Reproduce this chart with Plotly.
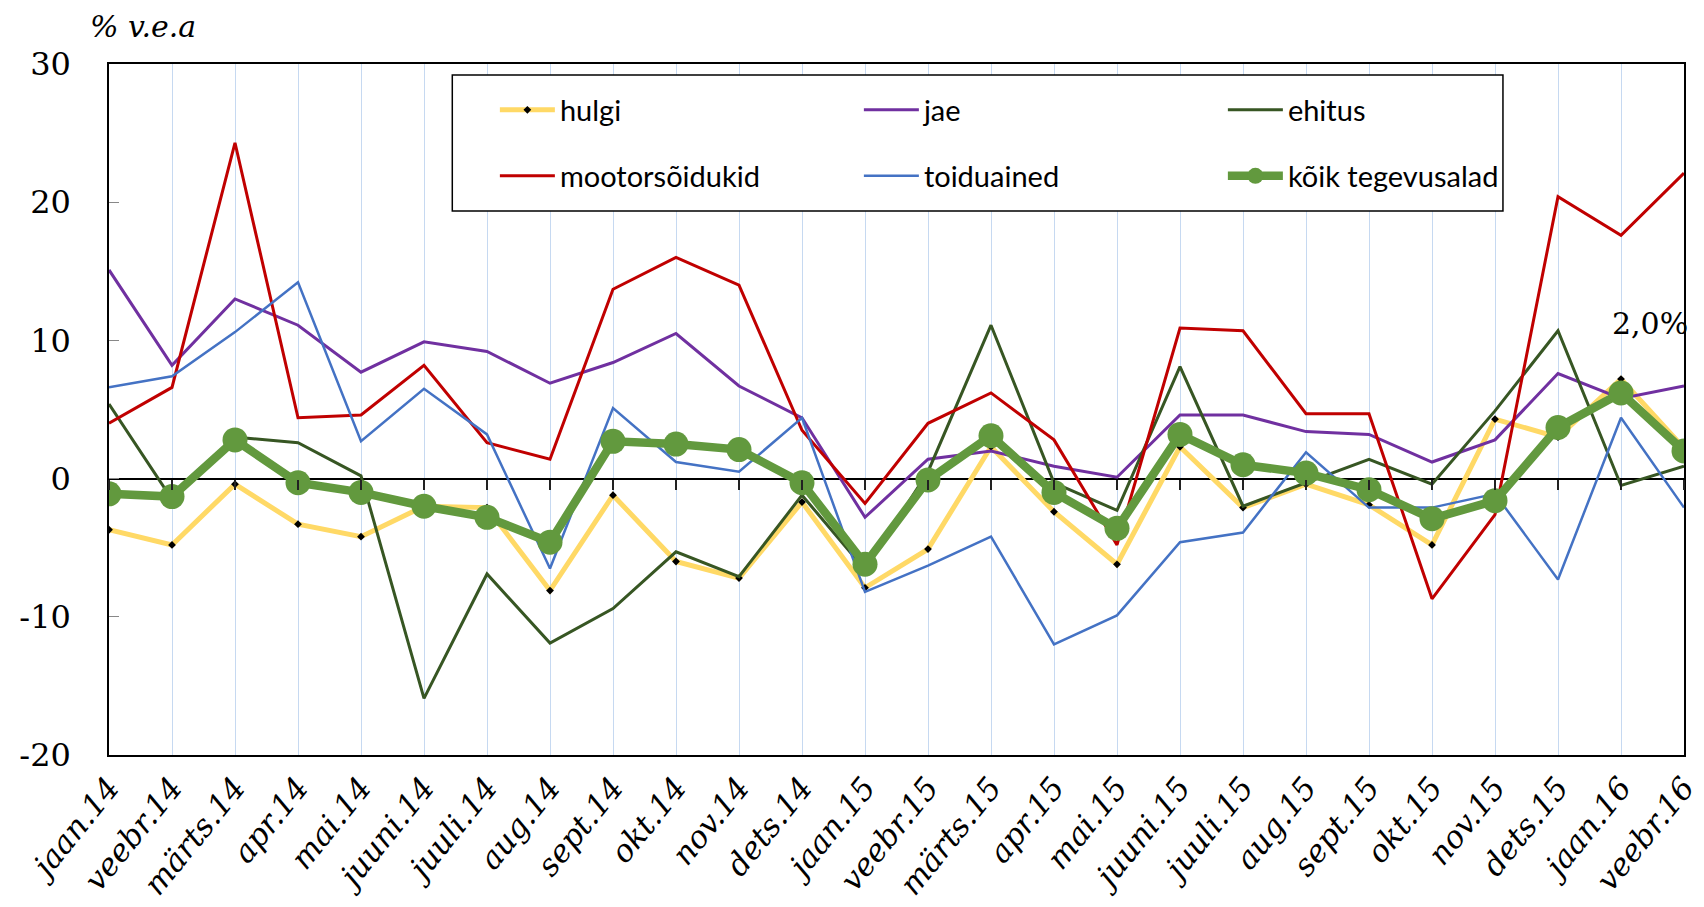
import plotly.graph_objects as go

months = ["jaan.14", "veebr.14", "märts.14", "apr.14", "mai.14", "juuni.14", "juuli.14",
          "aug.14", "sept.14", "okt.14", "nov.14", "dets.14", "jaan.15", "veebr.15",
          "märts.15", "apr.15", "mai.15", "juuni.15", "juuli.15", "aug.15", "sept.15",
          "okt.15", "nov.15", "dets.15", "jaan.16", "veebr.16"]

hulgi = [-3.7, -4.8, -0.4, -3.3, -4.2, -2.0, -2.1, -8.1, -1.2, -6.0, -7.2, -1.7, -7.9,
         -5.1, 2.3, -2.4, -6.2, 2.3, -2.1, -0.4, -1.9, -4.8, 4.3, 3.0, 7.2, 2.2]
jae = [15.1, 8.2, 13.0, 11.1, 7.7, 9.9, 9.2, 6.9, 8.4, 10.5, 6.7, 4.4, -2.8, 1.4, 2.0,
       0.9, 0.1, 4.6, 4.6, 3.4, 3.2, 1.2, 2.8, 7.6, 5.8, 6.7]
ehitus = [5.4, -1.5, 3.0, 2.6, 0.2, -15.9, -6.9, -11.9, -9.4, -5.3, -7.1, -1.2, -6.6,
          0.5, 11.1, -0.3, -2.3, 8.1, -2.0, -0.3, 1.4, -0.4, 4.9, 10.7, -0.5, 0.9]
mootorsoidukid = [4.0, 6.6, 24.3, 4.4, 4.6, 8.2, 2.6, 1.4, 13.7, 16.0, 14.0, 3.5, -1.8,
                  4.0, 6.2, 2.8, -4.8, 10.9, 10.7, 4.7, 4.7, -8.7, -2.6, 20.4, 17.6, 22.1]
toiduained = [6.6, 7.4, 10.6, 14.2, 2.7, 6.5, 3.2, -6.5, 5.1, 1.2, 0.5, 4.4, -8.2, -6.3,
              -4.2, -12.0, -9.9, -4.6, -3.9, 1.9, -2.1, -2.1, -1.1, -7.3, 4.4, -2.1]
koik = [-1.1, -1.3, 2.8, -0.3, -1.0, -2.0, -2.8, -4.6, 2.7, 2.5, 2.1, -0.3, -6.2, -0.1,
        3.1, -1.0, -3.6, 3.2, 1.0, 0.4, -0.8, -2.9, -1.6, 3.7, 6.2, 2.0]

y_tickvals = [-20, -10, 0, 10, 20, 30]
y_ticktext = ["-20", "-10", "0", "10", "20", "30"]

unit_label = "% v.e.a"
last_label = "2,0%"

SERIF = "DejaVu Serif"
SANS = "Lato, Liberation Sans Narrow, Noto Sans, sans-serif"

fig = go.Figure()

def add_line(name, vals, color, width, legend, marker=None):
    kw = dict(x=months, y=vals, name=name, mode="lines", legend=legend,
              line=dict(color=color, width=width), hoverinfo="skip")
    if marker:
        kw["mode"] = "lines+markers"
        kw["marker"] = marker
    fig.add_trace(go.Scatter(**kw))

add_line("hulgi", hulgi, "#FFD966", 5, "legend",
         dict(symbol="diamond", size=6, color="black"))
add_line("jae", jae, "#7030A0", 3, "legend")
add_line("ehitus", ehitus, "#375623", 3, "legend")
add_line("mootorsõidukid", mootorsoidukid, "#C00000", 3, "legend2")
add_line("toiduained", toiduained, "#4472C4", 2.5, "legend2")
add_line("kõik tegevusalad", koik, "#62993E", 8.5, "legend2",
         dict(symbol="circle", size=25, color="#62993E"))

# helper axis for tick marks on the zero line
fig.add_trace(go.Scatter(x=months, y=[None] * len(months), xaxis="x2", yaxis="y",
                         showlegend=False, hoverinfo="skip", mode="lines"))

legend_common = dict(
    orientation="h", xanchor="left", yanchor="middle",
    bgcolor="rgba(0,0,0,0)", borderwidth=0,
    font=dict(family=SANS, size=29, color="black"),
    itemwidth=55, entrywidth=294, traceorder="normal",
)

fig.update_layout(
    width=1704, height=907,
    paper_bgcolor="white", plot_bgcolor="white",
    margin=dict(l=101, r=11, t=56, b=160),
    showlegend=True,
    legend=dict(legend_common, x=0.245, y=1 - (102 - 56) / 691),
    legend2=dict(legend_common, x=0.245, y=1 - (168 - 56) / 691),
    xaxis=dict(
        type="category", range=[0, len(months) - 1],
        showgrid=True, gridcolor="#C6D9F1", gridwidth=1,
        showline=True, linecolor="black", linewidth=1.5, mirror=True,
        ticks="", tickangle=-51, ticklabelstandoff=0,
        tickfont=dict(family=SERIF, size=31, color="black", style="italic"),
        zeroline=False,
    ),
    xaxis2=dict(
        type="category", range=[0, len(months) - 1], overlaying="x",
        anchor="free", position=0.4, side="bottom",
        showgrid=False, showline=False, zeroline=False,
        ticks="outside", ticklen=10, tickwidth=1.5, tickcolor="#222222",
        showticklabels=False,
    ),
    yaxis=dict(
        range=[-20, 30], tickvals=y_tickvals, ticktext=y_ticktext,
        showgrid=False, showline=True, linecolor="black", linewidth=1.5, mirror=True,
        ticks="inside", ticklen=10, tickcolor="#888888", tickwidth=1,
        ticklabelstandoff=30,
        tickfont=dict(family=SERIF, size=32, color="black"),
        zeroline=True, zerolinecolor="black", zerolinewidth=1.5,
    ),
    shapes=[dict(type="rect", xref="paper", yref="paper",
                 x0=(448 - 101) / 1592, x1=(1510 - 101) / 1592,
                 y0=1 - (203 - 56) / 691, y1=1 - (67 - 56) / 691,
                 line=dict(color="black", width=1.5), fillcolor="white",
                 layer="above")],
    annotations=[
        dict(text=unit_label, xref="paper", yref="paper", x=-0.006, y=1.0,
             xanchor="left", yanchor="bottom", xshift=-12, yshift=18, showarrow=False,
             font=dict(family=SERIF, size=30, color="black", style="italic")),
        dict(text=last_label, xref="x", yref="y", x=months[-1], y=11.2,
             xanchor="right", yanchor="middle", xshift=6, showarrow=False,
             font=dict(family=SERIF, size=30, color="black")),
    ],
)

fig.write_html("out.html")
